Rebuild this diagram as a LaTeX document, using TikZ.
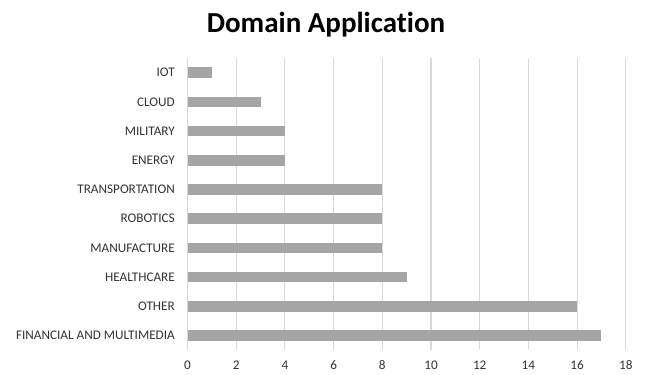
\documentclass[tikz,border=0pt]{standalone}
\usepackage{fontspec}
\setmainfont{Carlito}[Ligatures=NoCommon]
\definecolor{barc}{HTML}{A5A5A5}
\definecolor{gridc}{HTML}{D9D9D9}
\tikzset{
  gridline/.style={draw=gridc, line width=1.1pt},
  barbox/.style={fill=barc, draw=none},
  catlabel/.style={anchor=base east, inner sep=0pt, font=\fontsize{13.2}{15}\selectfont, text=black!80},
  ticklabel/.style={anchor=base, inner sep=0pt, font=\fontsize{13.2}{15}\selectfont, text=black!80},
  charttitle/.style={anchor=base, inner sep=0pt, font=\bfseries\fontsize{29}{34}\selectfont}
}
\begin{document}
\begin{tikzpicture}[x=1pt,y=-1pt]
\useasboundingbox[fill=white] (0,0) rectangle (646,375);
\node[charttitle] (title) at (326,32) {Domain Application};
% grid
\foreach \v in {0,2,...,18} {
  \draw[gridline] ({187.5+24.35*\v},58) -- ({187.5+24.35*\v},350);
  \node[ticklabel] (t\v) at ({187.5+24.35*\v},369.5) {\v};
}
% bars
\foreach \i/\name/\val in {0/IOT/1,1/CLOUD/3,2/MILITARY/4,3/ENERGY/4,4/TRANSPORTATION/8,5/ROBOTICS/8,6/MANUFACTURE/8,7/HEALTHCARE/9,8/OTHER/16,9/FINANCIAL AND MULTIMEDIA/17} {
  \path[barbox] (187.5,{72.6+29.2*\i-5.3}) rectangle ({187.5+24.35*\val},{72.6+29.2*\i+5.3});
  \node[catlabel] (c\i) at (175,{72.6+29.2*\i+4.3}) {\name};
}
\end{tikzpicture}
\end{document}
